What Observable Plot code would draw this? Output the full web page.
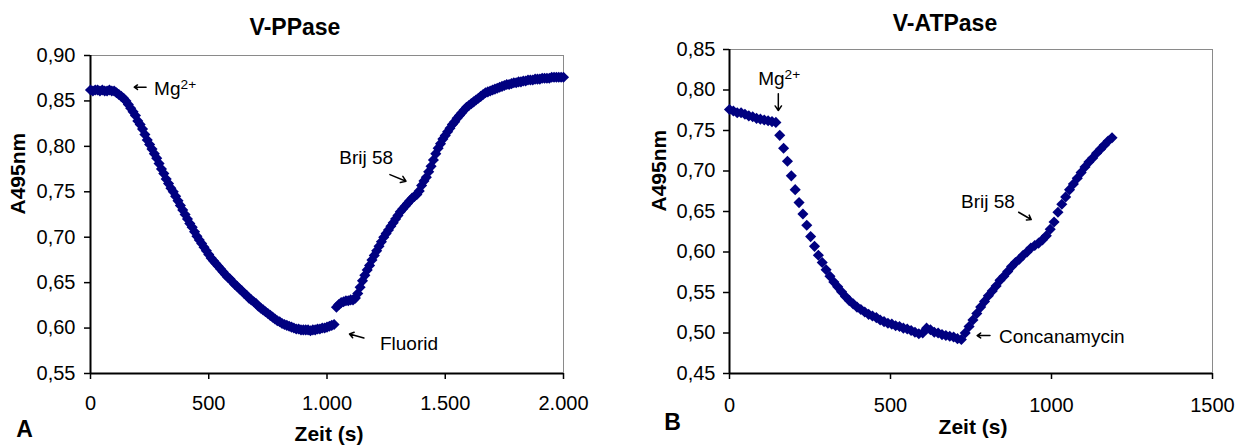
<!DOCTYPE html>
<html>
<head>
<meta charset="utf-8">
<script src="https://cdn.jsdelivr.net/npm/d3@7"></script>
<script src="https://cdn.jsdelivr.net/npm/@observablehq/plot@0.6"></script>
<style>
  html, body { margin: 0; padding: 0; background: #fff; }
  #wrap { position: relative; width: 1243px; height: 445px; overflow: hidden; background: #fff; }
  #wrap svg { position: absolute; top: 0; }
</style>
</head>
<body>
<div id="wrap"></div>
<script>
// ---------- Panel A: V-PPase ----------
const titleA = "V-PPase";
const timeA = [0,10,20,30,40,50,60,70,80,90,100,110,120,130,140,150,160,170,180,190,200,210,220,230,240,250,260,270,280,290,300,310,320,330,340,350,360,370,380,390,400,410,420,430,440,450,460,470,480,490,500,510,520,530,540,550,560,570,580,590,600,610,620,630,640,650,660,670,680,690,700,710,720,730,740,750,760,770,780,790,800,810,820,830,840,850,860,870,880,890,900,910,920,930,940,950,960,970,980,990,1000,1010,1020,1030,
  1040,1050,1060,1070,1080,1090,1100,1110,1120,1130,1140,1150,1160,1170,1180,1190,1200,1210,1220,1230,1240,1250,1260,1270,1280,1290,1300,1310,1320,1330,1340,1350,1360,1370,1380,1390,1400,1410,1420,1430,1440,1450,1460,1470,1480,1490,1500,1510,1520,1530,1540,1550,1560,1570,1580,1590,1600,1610,1620,1630,1640,1650,1660,1670,1680,1690,1700,1710,1720,1730,1740,1750,1760,1770,1780,1790,1800,1810,1820,1830,1840,1850,1860,1870,1880,1890,1900,1910,1920,1930,1940,1950,1960,1970,1980,1990,2000];
const valueA = [0.862,0.861,0.862,0.862,0.861,0.862,0.861,0.861,0.862,0.861,0.861,0.859,0.857,0.855,0.853,0.850,0.846,0.842,0.838,0.834,0.828,0.824,0.819,0.813,0.807,0.802,0.797,0.792,0.787,0.781,0.775,0.770,0.764,0.759,0.754,0.750,0.745,0.740,0.735,0.730,0.725,0.720,0.715,0.711,0.706,0.701,0.697,0.693,0.689,0.685,0.681,0.677,0.674,0.671,0.668,0.665,0.662,0.659,0.656,0.654,0.651,0.648,0.646,0.643,0.641,0.638,0.636,0.633,0.631,0.629,0.627,0.624,0.622,0.620,0.618,0.616,0.614,0.612,0.610,0.608,0.607,0.605,0.604,0.603,0.602,0.601,0.600,0.599,0.599,0.598,0.598,0.598,0.598,0.597,0.598,0.598,0.599,0.599,0.600,0.600,0.601,0.602,0.603,0.604,
  0.623,0.626,0.628,0.629,0.630,0.630,0.631,0.631,0.633,0.638,0.645,0.652,0.658,0.664,0.669,0.675,0.680,0.685,0.690,0.695,0.700,0.704,0.708,0.712,0.716,0.720,0.724,0.728,0.731,0.734,0.737,0.740,0.743,0.745,0.747,0.751,0.757,0.762,0.766,0.772,0.778,0.785,0.792,0.798,0.803,0.808,0.812,0.816,0.820,0.824,0.827,0.831,0.834,0.837,0.840,0.843,0.845,0.847,0.849,0.851,0.853,0.855,0.857,0.859,0.860,0.861,0.862,0.863,0.864,0.865,0.866,0.867,0.868,0.868,0.869,0.870,0.870,0.871,0.871,0.872,0.872,0.873,0.873,0.873,0.874,0.874,0.874,0.875,0.875,0.875,0.875,0.876,0.876,0.876,0.876,0.876,0.876];
const xTicksA = [0, 500, 1000, 1500, 2000];
const yTicksA = [0.55, 0.60, 0.65, 0.70, 0.75, 0.80, 0.85, 0.90];

// ---------- Panel B: V-ATPase ----------
const titleB = "V-ATPase";
const timeB = [0,12,24,36,48,60,72,84,96,108,120,132,144,156,168,180,192,204,216,228,240,252,264,276,288,300,312,324,336,348,360,372,384,396,408,420,432,444,456,468,480,492,504,516,528,540,552,564,576,588,600,612,624,636,648,660,672,684,696,708,720,732,744,756,768,780,792,804,816,828,840,852,864,876,888,900,912,924,936,948,960,972,984,996,1008,1020,1032,1044,1056,1068,1080,1092,1104,1116,1128,1140,1152,1164,1176,1188];
const valueB = [0.776,0.774,0.772,0.772,0.770,0.768,0.767,0.765,0.764,0.763,0.762,0.761,0.760,0.744,0.728,0.712,0.694,0.677,0.661,0.647,0.633,0.619,0.607,0.596,0.587,0.578,0.570,0.563,0.557,0.551,0.545,0.540,0.536,0.532,0.529,0.526,0.523,0.521,0.519,0.516,0.514,0.512,0.511,0.509,0.508,0.506,0.505,0.503,0.501,0.499,0.500,0.506,0.504,0.501,0.500,0.498,0.497,0.496,0.495,0.493,0.492,0.500,0.508,0.516,0.524,0.532,0.539,0.546,0.552,0.558,0.565,0.570,0.576,0.582,0.587,0.591,0.596,0.600,0.605,0.608,0.611,0.615,0.620,0.628,0.637,0.649,0.659,0.668,0.677,0.684,0.691,0.698,0.705,0.711,0.716,0.722,0.727,0.732,0.737,0.741];
const xTicksB = [0, 500, 1000, 1500];
const yTicksB = [0.45, 0.50, 0.55, 0.60, 0.65, 0.70, 0.75, 0.80, 0.85];

const xLabel = "Zeit (s)";
const yLabel = "A495nm";

// ---------- formatting ----------
const de = d3.formatLocale({decimal: ",", thousands: ".", grouping: [3], currency: ["", " €"]});
const fmtY = de.format(".2f");
const fmtXA = de.format(",.0f");
const fmtXB = d3.format("d");

const FONT = '"Liberation Sans", Arial, Helvetica, sans-serif';
const NAVY = "#000080";

function panel(cfg) {
  const data = cfg.time.map((t, i) => ({t, v: cfg.value[i]}));
  const svg = Plot.plot({
    width: cfg.width, height: 445,
    marginLeft: cfg.ml, marginRight: cfg.mr, marginTop: cfg.mt, marginBottom: cfg.mb,
    style: {fontFamily: FONT, fontSize: "20px", color: "#000", background: "transparent", overflow: "visible"},
    x: {domain: cfg.xDomain},
    y: {domain: cfg.yDomain},
    marks: [
      Plot.frame({stroke: "#8a8a8a", strokeWidth: 1}),
      Plot.axisY({ticks: cfg.yTicks, tickFormat: fmtY, tickSize: 6, tickPadding: cfg.yPad, label: null, strokeWidth: 1.5, fontSize: 20}),
      Plot.axisX({ticks: cfg.xTicks, tickFormat: cfg.xFmt, tickSize: 6, tickPadding: cfg.xPad, label: null, strokeWidth: 1.5, fontSize: 20}),
      Plot.ruleX([cfg.xDomain[0]], {stroke: "#000", strokeWidth: 2}),
      Plot.ruleY([cfg.yDomain[0]], {stroke: "#000", strokeWidth: 2}),
      Plot.dot(data, {x: "t", y: "v", symbol: "diamond2", r: 5, fill: NAVY, stroke: "none"}),
      Plot.arrow(cfg.arrows, {x1: "x1", y1: "y1", x2: "x2", y2: "y2", stroke: "#000", strokeWidth: 1.5, headLength: 6, headAngle: 70}),
      Plot.text(cfg.notes, {x: "x", y: "y", text: "label", textAnchor: "start", lineAnchor: "middle", fontSize: 19, fill: "#000"}),
      Plot.text([cfg.title], {frameAnchor: "top", dx: cfg.titleDx, dy: cfg.titleDy, lineAnchor: "middle", fontWeight: "bold", fontSize: 23, fill: "#000"}),
      Plot.text([xLabel], {frameAnchor: "bottom", dx: cfg.xlDx, dy: cfg.xlDy, lineAnchor: "middle", fontWeight: "bold", fontSize: 21, fill: "#000"}),
      Plot.text([yLabel], {frameAnchor: "left", dx: cfg.ylDx, rotate: -90, lineAnchor: "middle", fontWeight: "bold", fontSize: 21, fill: "#000"}),
      Plot.text([cfg.tag], {frameAnchor: "bottom-left", dx: cfg.tagDx, dy: cfg.tagDy, textAnchor: "middle", lineAnchor: "middle", fontWeight: "bold", fontSize: 23, fill: "#000"})
    ]
  });
  // superscript for Mg2+
  d3.select(svg).selectAll("text").each(function () {
    if (this.textContent === "Mg2+") {
      const el = d3.select(this);
      el.text(null);
      el.append("tspan").text("Mg");
      el.append("tspan").attr("dy", "-0.45em").attr("font-size", "72%").text("2+");
    }
  });
  svg.style.left = cfg.left + "px";
  return svg;
}

const wrap = document.getElementById("wrap");

wrap.appendChild(panel({
  left: 0, width: 620, ml: 90, mr: 57, mt: 55, mb: 72,
  time: timeA, value: valueA,
  xDomain: [0, 2000], yDomain: [0.55, 0.90],
  xTicks: xTicksA, yTicks: yTicksA, xFmt: fmtXA, xPad: 16, yPad: 9,
  title: titleA, titleDx: -32, titleDy: -28,
  xlDx: 2, xlDy: 61, ylDx: -72, tag: "A", tagDx: -66, tagDy: 56,
  notes: [
    {x: 269, y: 0.8633, label: "Mg2+"},
    {x: 1052, y: 0.7871, label: "Brij 58"},
    {x: 1224, y: 0.5828, label: "Fluorid"}
  ],
  arrows: [
    {x1: 235, y1: 0.8651, x2: 185, y2: 0.8651},
    {x1: 1266, y1: 0.7689, x2: 1334, y2: 0.7616},
    {x1: 1156, y1: 0.5891, x2: 1095, y2: 0.5935}
  ]
}));

wrap.appendChild(panel({
  left: 620, width: 623, ml: 109, mr: 31, mt: 49, mb: 72,
  time: timeB, value: valueB,
  xDomain: [0, 1500], yDomain: [0.45, 0.85],
  xTicks: xTicksB, yTicks: yTicksB, xFmt: fmtXB, xPad: 18, yPad: 8,
  title: titleB, titleDx: -26, titleDy: -25.5,
  xlDx: 2, xlDy: 54, ylDx: -70, tag: "B", tagDx: -57, tagDy: 49.5,
  notes: [
    {x: 89, y: 0.8133, label: "Mg2+"},
    {x: 719, y: 0.6623, label: "Brij 58"},
    {x: 837, y: 0.4953, label: "Concanamycin"}
  ],
  arrows: [
    {x1: 151.6, y1: 0.7953, x2: 151.6, y2: 0.7747},
    {x1: 898, y1: 0.6491, x2: 937, y2: 0.6401},
    {x1: 809, y1: 0.4969, x2: 769, y2: 0.4969}
  ]
}));
</script>
</body>
</html>
